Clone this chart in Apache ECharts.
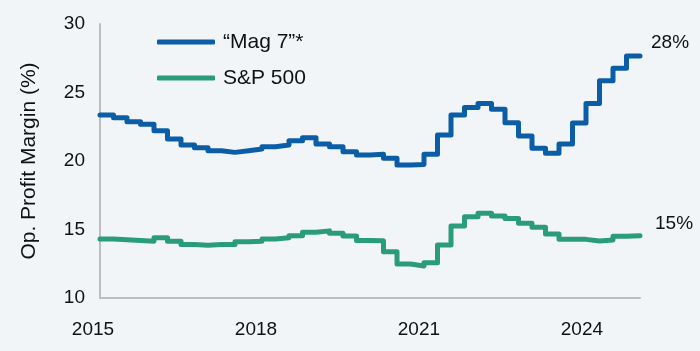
<!DOCTYPE html>
<html>
<head>
<meta charset="utf-8">
<script src="https://cdn.jsdelivr.net/npm/echarts@6/dist/echarts.min.js"></script>
<style>
  html, body { margin: 0; padding: 0; background: #f2f5f8; }
  #chart { width: 700px; height: 351px; }
</style>
</head>
<body>
<div id="chart"></div>
<script>
// quarterly readings, last entry is the latest point (early 2025)
const quarters = [
  '1Q15','2Q15','3Q15','4Q15','1Q16','2Q16','3Q16','4Q16',
  '1Q17','2Q17','3Q17','4Q17','1Q18','2Q18','3Q18','4Q18',
  '1Q19','2Q19','3Q19','4Q19','1Q20','2Q20','3Q20','4Q20',
  '1Q21','2Q21','3Q21','4Q21','1Q22','2Q22','3Q22','4Q22',
  '1Q23','2Q23','3Q23','4Q23','1Q24','2Q24','3Q24','4Q24','1Q25'
]
const mag7 = [
  23.36, 23.16, 22.87, 22.68, 22.21, 21.60, 21.17, 20.97,
  20.75, 20.63, 20.75, 20.87, 21.04, 21.17, 21.48, 21.70,
  21.24, 21.04, 20.68, 20.44, 20.50, 20.20, 19.70, 19.75,
  20.50, 21.90, 23.36, 23.90, 24.20, 23.78, 22.80, 21.83,
  20.93, 20.56, 21.24, 22.78, 24.20, 25.86, 26.77, 27.66, 27.66
]
const sp500 = [
  14.30, 14.25, 14.20, 14.15, 14.40, 14.15, 13.90, 13.85,
  13.90, 13.90, 14.10, 14.15, 14.30, 14.40, 14.55, 14.80,
  14.90, 14.72, 14.53, 14.20, 14.18, 13.38, 12.48, 12.34,
  12.58, 13.87, 15.25, 15.93, 16.18, 15.99, 15.80, 15.45,
  15.16, 14.67, 14.28, 14.28, 14.16, 14.23, 14.50, 14.55, 14.55
]
const seriesNames = ['\u201cMag 7\u201d*', 'S&P 500']
const endLabels = ['28%', '15%']
const yearTicks = [2015, 2018, 2021, 2024]
const yTicks = [10, 15, 20, 25, 30]

const font = '"Liberation Sans", Arial, sans-serif'
const chart = echarts.init(document.getElementById('chart'))

const option = {
  backgroundColor: '#f2f5f8',
  animation: false,
  textStyle: { fontFamily: font, color: '#111' },
  grid: [
    { left: 100, right: 60, top: 24, bottom: 53 },
    // second grid only carries the year labels (starts at Jan 2015)
    { left: 93, right: 60, top: 24, bottom: 53 }
  ],
  legend: {
    data: seriesNames,
    orient: 'vertical',
    left: 157,
    top: 31,
    padding: 0,
    itemWidth: 58,
    itemHeight: 5,
    itemGap: 14,
    icon: 'roundRect',
    textStyle: { fontSize: 21, color: '#111', lineHeight: 22, fontFamily: font, padding: [0, 0, 0, 3] }
  },
  xAxis: [
    {
      type: 'category',
      gridIndex: 0,
      data: quarters,
      boundaryGap: false,
      axisLine: { lineStyle: { color: '#bdbdbd', width: 2 } },
      axisTick: { show: false },
      axisLabel: { show: false },
      splitLine: { show: false }
    },
    {
      type: 'value',
      gridIndex: 1,
      min: 0,
      max: 10.07,
      interval: 3,
      axisLine: { show: false },
      axisTick: { show: false },
      splitLine: { show: false },
      axisLabel: {
        fontSize: 19,
        color: '#111',
        fontFamily: font,
        margin: 22,
        showMaxLabel: false,
        formatter: v => yearTicks.includes(2015 + v) ? String(2015 + v) : ''
      }
    }
  ],
  yAxis: [
    {
      type: 'value',
      gridIndex: 0,
      min: yTicks[0],
      max: yTicks[yTicks.length - 1],
      interval: 5,
      name: 'Op. Profit Margin (%)',
      nameLocation: 'middle',
      nameGap: 60,
      nameTextStyle: { fontSize: 21, color: '#111', fontFamily: font },
      axisLine: { show: true, lineStyle: { color: '#bdbdbd', width: 2 } },
      axisTick: { show: false },
      splitLine: { show: false },
      axisLabel: { fontSize: 19, color: '#111', fontFamily: font, margin: 15 }
    },
    {
      type: 'value',
      gridIndex: 1,
      min: 10,
      max: 30,
      show: false
    }
  ],
  series: [
    {
      name: seriesNames[0],
      type: 'line',
      xAxisIndex: 0,
      yAxisIndex: 0,
      data: mag7,
      step: 'end',
      showSymbol: false,
      symbol: 'none',
      color: '#0b5ea6',
      lineStyle: { width: 5, color: '#0b5ea6', cap: 'round', join: 'round' },
      endLabel: {
        show: true,
        formatter: () => endLabels[0],
        fontSize: 19,
        color: '#111',
        fontFamily: font,
        offset: [3, -13]
      },
      z: 3
    },
    {
      name: seriesNames[1],
      type: 'line',
      xAxisIndex: 0,
      yAxisIndex: 0,
      data: sp500,
      step: 'end',
      showSymbol: false,
      symbol: 'none',
      color: '#2a9d78',
      lineStyle: { width: 5, color: '#2a9d78', cap: 'round', join: 'round' },
      endLabel: {
        show: true,
        formatter: () => endLabels[1],
        fontSize: 19,
        color: '#111',
        fontFamily: font,
        offset: [7, -12]
      },
      z: 2
    }
  ]
}
chart.setOption(option)
</script>
</body>
</html>
